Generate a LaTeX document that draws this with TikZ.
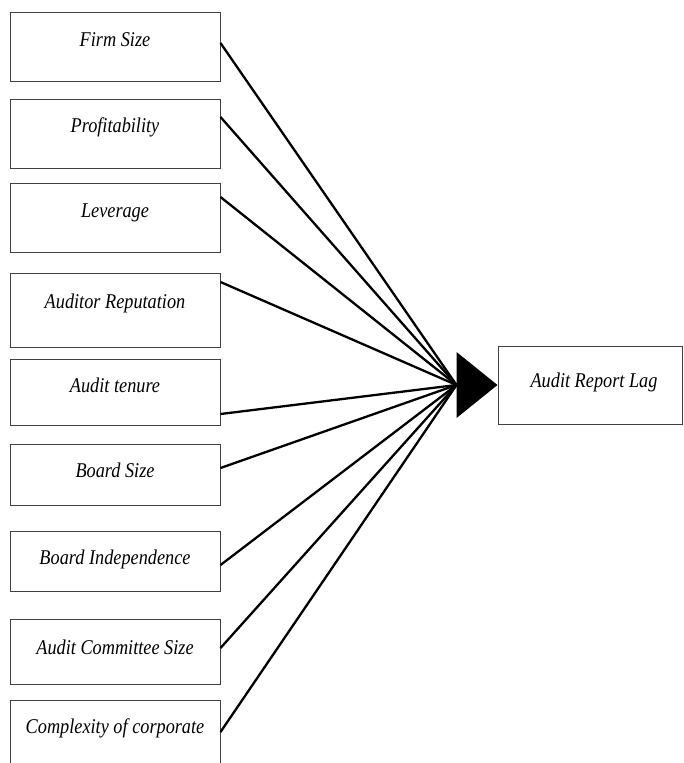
\documentclass[tikz,border=0pt]{standalone}
\usepackage{fontspec}
\newfontfamily\lblfont[FakeStretch=0.87]{Liberation Serif}
\begin{document}
\begin{tikzpicture}[x=1pt,y=-1pt,
  box/.style={draw=black!75, line width=1pt, rectangle, inner sep=0pt, minimum width=210pt},
  lbl/.style={inner sep=0pt, font=\lblfont\itshape\fontsize{21}{23}\selectfont},
  conn/.style={line width=2.3pt, black}]
\useasboundingbox (0,0) rectangle (683,763);
\clip (0,0) rectangle (683,763);
\fill[white] (0,0) rectangle (683,763);
% left boxes
\node[box, minimum height=69pt] (b1) at (115,46.5) {};
\node[box, minimum height=69pt] (b2) at (115,133.5) {};
\node[box, minimum height=69pt] (b3) at (115,217.5) {};
\node[box, minimum height=74pt] (b4) at (115,310) {};
\node[box, minimum height=66pt] (b5) at (115,392) {};
\node[box, minimum height=61pt] (b6) at (115,474.5) {};
\node[box, minimum height=60pt] (b7) at (115,561) {};
\node[box, minimum height=65pt] (b8) at (115,651.5) {};
\node[box, minimum height=75pt] (b9) at (115,737.5) {};
% labels
\node[lbl] (t1) at (115,40) {Firm Size};
\node[lbl] (t2) at (115,127) {Profitability};
\node[lbl] (t3) at (115,213) {Leverage};
\node[lbl] (t4) at (115,303) {Auditor Reputation};
\node[lbl] (t5) at (115,385) {Audit tenure};
\node[lbl] (t6) at (115,470) {Board Size};
\node[lbl] (t7) at (115,559) {Board Independence};
\node[lbl] (t8) at (115,647) {Audit Committee Size};
\node[lbl] (t9) at (115,728) {Complexity of corporate};
% target
\node[box, minimum width=184pt, minimum height=78pt] (arl) at (590,385) {};
\node[lbl] (tarl) at (594,382) {Audit Report Lag};
\coordinate (c) at ([xshift=-41pt]arl.west);
% connectors
\draw[conn] ([yshift=3.5pt]b1.east) -- (c);
\draw[conn] ([yshift=16.5pt]b2.east) -- (c);
\draw[conn] ([yshift=20.5pt]b3.east) -- (c);
\draw[conn] ([yshift=28pt]b4.east) -- (c);
\draw[conn] ([yshift=-22pt]b5.east) -- (c);
\draw[conn] ([yshift=6.5pt]b6.east) -- (c);
\draw[conn] ([yshift=-4pt]b7.east) -- (c);
\draw[conn] ([yshift=3.5pt]b8.east) -- (c);
\draw[conn] ([yshift=5.5pt]b9.east) -- (c);
% arrowhead
\fill[black] ([yshift=33pt]c) -- (arl.west) -- ([yshift=-33pt]c) -- cycle;
\end{tikzpicture}
\end{document}
